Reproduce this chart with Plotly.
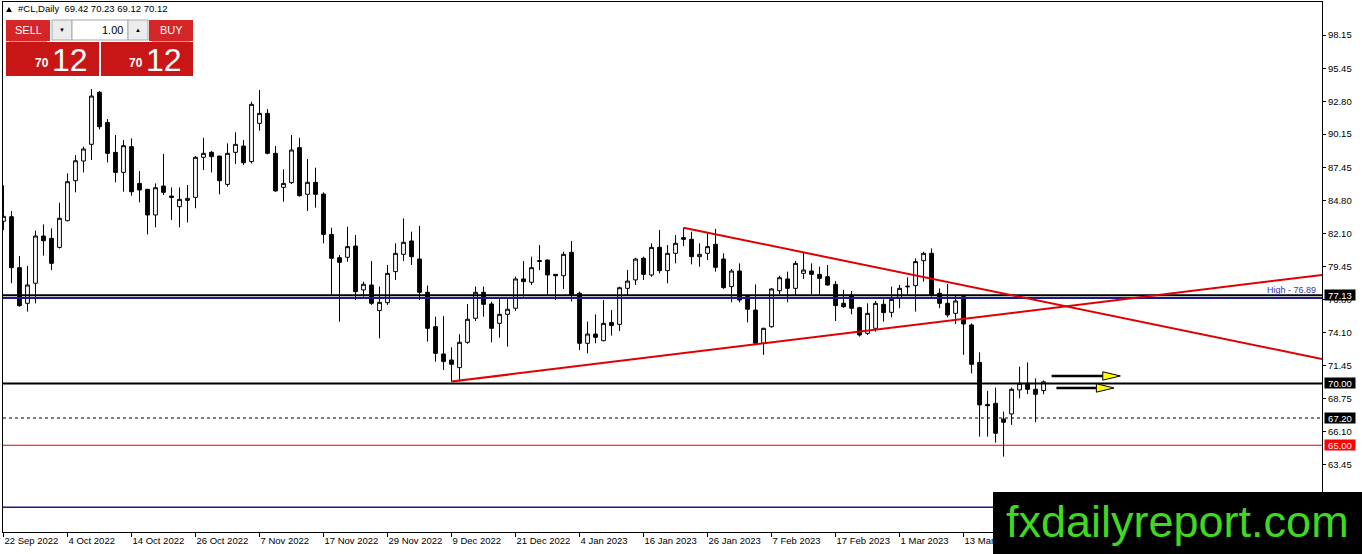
import pandas as pd
import plotly.graph_objects as go

# daily OHLC of #CL (22 Sep 2022 .. 27 Mar 2023)
opens = [83.10, 83.47, 79.35, 76.47, 78.09, 81.91, 81.72, 80.99, 83.15, 86.38,
         87.97, 89.32, 93.52, 91.09, 88.67, 87.05, 89.13, 86.16, 85.68, 83.61,
         85.95, 85.14, 84.28, 84.79, 85.03, 88.27, 88.67, 88.37, 86.08, 88.67,
         89.18, 87.92, 91.01, 91.82, 88.59, 85.84, 86.22, 89.05, 85.28, 86.25,
         85.30, 82.04, 80.16, 80.19, 81.10, 77.55, 77.95, 75.88, 76.52, 79.03,
         80.43, 81.51, 80.05, 77.36, 74.58, 72.38, 71.89, 71.27, 73.32, 75.26,
         77.36, 76.42, 74.85, 75.58, 76.07, 78.44, 78.17, 79.85, 79.97, 78.81,
         78.70, 80.59, 77.28, 73.24, 73.99, 73.45, 74.91, 74.77, 77.68, 78.36,
         80.11, 78.76, 81.00, 79.11, 80.51, 81.78, 81.64, 80.24, 80.51, 81.24,
         80.05, 77.82, 79.08, 77.01, 75.93, 73.24, 74.58, 77.49, 78.44, 77.68,
         78.89, 79.08, 78.81, 78.62, 78.00, 76.47, 77.14, 76.12, 74.05, 74.45,
         76.39, 75.74, 76.87, 77.80, 77.90, 79.92, 80.51, 77.28, 76.47, 75.66,
         77.01, 74.72, 71.70, 68.30, 68.39, 67.12, 67.53, 69.47, 70.01, 69.52,
         69.42]
highs = [86.00, 83.93, 80.29, 79.49, 82.34, 82.85, 82.53, 84.60, 86.97, 88.45,
         89.13, 93.79, 93.63, 91.36, 90.07, 89.67, 89.80, 87.16, 85.72, 86.16,
         88.54, 85.84, 85.84, 86.03, 88.37, 89.85, 88.78, 88.40, 89.40, 90.29,
         89.67, 92.76, 93.71, 92.17, 89.18, 87.30, 90.07, 89.85, 88.13, 87.43,
         85.44, 82.58, 80.37, 82.66, 81.99, 78.22, 79.89, 77.82, 79.57, 81.32,
         83.34, 82.26, 82.72, 77.90, 75.39, 75.45, 72.92, 73.97, 76.42, 77.82,
         77.82, 76.60, 76.87, 76.82, 78.62, 79.89, 80.24, 81.18, 80.00, 78.82,
         80.65, 81.51, 77.41, 74.99, 75.58, 76.74, 75.93, 77.82, 79.16, 80.16,
         80.24, 81.32, 82.39, 81.18, 81.99, 82.58, 82.26, 81.32, 82.12, 82.48,
         80.51, 79.24, 79.70, 77.14, 78.00, 74.50, 77.70, 78.70, 79.03, 79.89,
         80.59, 79.70, 79.43, 79.57, 78.27, 77.55, 77.47, 76.20, 76.47, 76.66,
         76.79, 77.82, 77.95, 78.57, 80.11, 80.64, 80.91, 77.68, 78.03, 77.14,
         77.14, 74.85, 72.51, 69.39, 69.66, 67.72, 69.66, 71.35, 71.70, 70.41,
         70.23]
lows = [82.40, 78.09, 76.20, 75.80, 76.47, 80.32, 79.16, 80.90, 83.10, 85.44,
        87.05, 88.05, 90.53, 87.86, 86.25, 85.49, 85.17, 84.63, 82.04, 82.61,
        85.22, 83.20, 82.61, 83.01, 84.15, 87.24, 87.05, 85.28, 85.90, 87.73,
        87.65, 87.78, 90.42, 88.51, 85.50, 84.68, 86.11, 85.09, 83.93, 84.20,
        81.32, 77.14, 74.99, 79.84, 76.74, 77.01, 76.34, 73.64, 76.34, 78.36,
        79.89, 79.57, 76.74, 73.37, 71.76, 71.08, 70.14, 70.14, 73.20, 75.04,
        75.39, 73.32, 73.70, 72.97, 75.85, 77.01, 77.95, 79.16, 77.14, 76.74,
        77.63, 76.61, 72.70, 72.43, 73.24, 73.40, 73.86, 74.23, 77.14, 77.95,
        78.36, 78.62, 78.89, 78.09, 79.70, 81.10, 79.62, 79.43, 79.97, 79.03,
        77.63, 76.55, 76.55, 74.93, 73.20, 72.30, 74.50, 77.22, 76.55, 77.14,
        78.44, 77.20, 77.14, 77.90, 75.04, 76.10, 75.58, 73.78, 73.91, 74.18,
        74.99, 75.34, 76.07, 77.14, 75.80, 78.22, 77.01, 76.07, 75.34, 74.80,
        72.30, 70.81, 65.70, 65.70, 65.21, 64.08, 66.64, 68.79, 69.14, 66.86,
        69.12]
closes = [83.50, 79.35, 76.28, 77.95, 81.91, 81.53, 79.70, 83.34, 86.30, 87.99,
          88.94, 93.22, 90.74, 88.59, 87.05, 89.21, 85.49, 85.63, 83.61, 85.81,
          85.44, 85.03, 84.87, 84.95, 88.27, 88.59, 88.32, 86.38, 88.59, 89.32,
          87.83, 92.55, 91.82, 88.59, 85.55, 86.16, 88.86, 85.17, 86.25, 85.28,
          82.04, 80.11, 79.78, 81.05, 77.41, 78.01, 76.47, 76.55, 78.89, 80.51,
          81.40, 80.24, 77.36, 74.45, 72.43, 71.76, 71.54, 73.32, 75.18, 77.36,
          76.39, 74.45, 75.58, 75.99, 78.44, 78.22, 79.35, 79.92, 78.76, 78.70,
          80.43, 77.14, 73.24, 73.99, 73.72, 74.85, 74.67, 77.73, 78.27, 80.05,
          78.81, 80.99, 79.11, 80.51, 81.32, 81.64, 80.24, 80.43, 81.05, 79.38,
          77.74, 79.08, 76.74, 75.99, 73.24, 74.45, 77.63, 78.54, 77.68, 79.70,
          79.16, 78.81, 78.49, 77.95, 76.28, 76.20, 76.07, 73.91, 75.66, 76.47,
          75.72, 76.79, 77.68, 77.85, 79.84, 80.51, 77.14, 76.47, 75.53, 76.66,
          74.80, 71.54, 68.26, 68.20, 65.97, 66.86, 69.52, 70.01, 69.52, 69.12,
          70.12]

# trading days (broker had no bars on 26 Dec and 2 Jan)
days = pd.bdate_range("2022-09-22", "2023-03-27")
days = days.drop(pd.to_datetime(["2022-12-26", "2023-01-02"]))
bar_no = list(range(len(closes)))
# a date label every 8 bars; the one after 13 Mar is hidden by the watermark
tick_bars = bar_no[:121:8]
tick_text = [f"{days[i].day} {days[i]:%b %Y}" for i in tick_bars]

# price scale labels (76.80 sits under the 77.13 box)
price_ticks = [98.15, 95.45, 92.80, 90.15, 87.45, 84.80, 82.10, 79.45, 76.80,
               74.10, 71.45, 68.75, 66.10, 63.45]

# horizontal levels
level_black = 77.13
level_high = 76.89
level_70 = 70.00
level_dash = 67.20
level_red = 65.00
level_low = 60.00

# trend lines: (bar, price) start and end at the right edge of the chart
support_line = [(56, 70.15), (164.8, 78.76)]
resist_line = [(85, 82.58), (164.8, 71.97)]

# arrows: (bar start, bar of head base, bar of tip, price)
arrows = [(131.0, 137.4, 139.6, 70.60), (131.6, 136.6, 138.8, 69.63)]

# page geometry
W, H = 1362, 554
ML, MR, MT, MB = 3, 40, 2, 22
FONT = "Liberation Sans"


def px(x):
    return (x - ML) / (W - ML - MR)


def py(y):
    return (H - MB - y) / (H - MT - MB)


fig = go.Figure()

fig.add_trace(go.Candlestick(
    x=bar_no, open=opens, high=highs, low=lows, close=closes,
    increasing=dict(line=dict(color="black", width=1), fillcolor="white"),
    decreasing=dict(line=dict(color="black", width=1), fillcolor="black"),
    whiskerwidth=0, hoverinfo="skip", showlegend=False))

# horizontal lines across the chart
def hline(y, color, width, dash="solid"):
    fig.add_shape(type="line", xref="paper", yref="y", x0=0, x1=1, y0=y, y1=y,
                  line=dict(color=color, width=width, dash=dash), layer="above")


hline(level_black, "black", 2)
hline(level_high, "#1a1a8c", 2)
hline(level_70, "black", 2)
hline(level_dash, "black", 1, "3px,3px")
hline(level_red, "#e00000", 1)
hline(level_low, "#1a1a8c", 1.5)

# red trend lines
for ln in (support_line, resist_line):
    fig.add_shape(type="line", xref="x", yref="y",
                  x0=ln[0][0], y0=ln[0][1], x1=ln[1][0], y1=ln[1][1],
                  line=dict(color="#e00000", width=2), layer="above")

# yellow arrows
for a in arrows:
    x0, xb, xt, y = a
    fig.add_shape(type="line", xref="x", yref="y", x0=x0, x1=xb, y0=y, y1=y,
                  line=dict(color="black", width=2.5), layer="above")
    fig.add_shape(type="path", xref="x", yref="y",
                  path=f"M {xb} {y + 0.34} L {xt} {y} L {xb} {y - 0.34} Z",
                  fillcolor="#ffff00", line=dict(color="black", width=1),
                  layer="above")

# value boxes on the price scale
def price_box(y, text, bg):
    fig.add_annotation(xref="paper", yref="y", x=px(1324), y=y, text=text,
                       showarrow=False, xanchor="left", yanchor="middle",
                       bgcolor=bg, font=dict(family=FONT, size=9.5, color="white"),
                       width=29, height=9, borderpad=0.5)


price_box(level_black, "77.13", "black")
price_box(level_70, "70.00", "black")
price_box(level_dash, "67.20", "black")
price_box(level_red, "65.00", "#ff0000")

fig.add_annotation(xref="paper", yref="y", x=px(1318), y=level_high + 0.08,
                   text="High - 76.89", showarrow=False, xanchor="right",
                   yanchor="bottom", font=dict(family=FONT, size=9, color="#3434b4"))

# chart title
fig.add_shape(type="path", xref="paper", yref="paper",
              path=f"M {px(6)} {py(12)} L {px(12)} {py(12)} L {px(9)} {py(7)} Z",
              fillcolor="black", line=dict(width=0), layer="above")
fig.add_annotation(xref="paper", yref="paper", x=px(16), y=py(9),
                   text="#CL,Daily  69.42 70.23 69.12 70.12", showarrow=False,
                   xanchor="left", yanchor="middle",
                   font=dict(family=FONT, size=9.5, color="black"))

# one click trading panel
def rect(x0, y0, x1, y1, fill, line=None):
    fig.add_shape(type="rect", xref="paper", yref="paper",
                  x0=px(x0), x1=px(x1), y0=py(y1), y1=py(y0), fillcolor=fill,
                  line=dict(color=line or fill, width=1 if line else 0),
                  layer="above")


def text(x, y, s, size, color="white", anchor="center", bold=False):
    if bold:
        s = "<b>" + s + "</b>"
    fig.add_annotation(xref="paper", yref="paper", x=px(x), y=py(y), text=s,
                       showarrow=False, xanchor=anchor, yanchor="middle",
                       font=dict(family=FONT, size=size, color=color))


rect(6, 20, 50, 41, "#d42626")
rect(149, 20, 193, 41, "#d42626")
rect(52, 20, 72, 40, "#ececec", "#a8a8a8")
rect(72, 20, 128, 40, "white", "#a8a8a8")
rect(128, 20, 148, 40, "#ececec", "#a8a8a8")
rect(6, 42, 99, 76, "#c81616")
rect(101, 42, 193, 76, "#c81616")
for xa, xb in ((9, 47), (152, 190)):
    fig.add_shape(type="line", xref="paper", yref="paper", x0=px(xa), x1=px(xb),
                  y0=py(41.5), y1=py(41.5), line=dict(color="#f29090", width=1),
                  layer="above")

text(28, 30, "SELL", 11)
text(171, 30, "BUY", 11)
text(62, 30, "▼", 6, "black")
text(138, 30, "▲", 6, "black")
text(125, 30, "1.00", 11, "black", "right")
text(42, 63, "70", 12, bold=True)
text(70, 60, "12", 32)
text(136, 63, "70", 12, bold=True)
text(164, 60, "12", 32)

# watermark
rect(993, 492, 1362, 554, "black")
text(1177, 521, "fxdailyreport.com", 45, "#40d820")

fig.update_layout(
    width=W, height=H,
    margin=dict(l=ML, r=MR, t=MT, b=MB),
    paper_bgcolor="white", plot_bgcolor="white",
    showlegend=False, boxgap=0.32,
    xaxis=dict(range=[-0.06, 164.8], rangeslider=dict(visible=False),
               tickvals=tick_bars, ticktext=tick_text,
               ticks="outside", ticklen=4, tickcolor="black",
               ticklabelposition="outside right",
               showline=True, linecolor="black", linewidth=1, mirror=True,
               showgrid=False, zeroline=False,
               tickfont=dict(family=FONT, size=9.5, color="black")),
    yaxis=dict(range=[57.99, 100.82], side="right",
               tickvals=price_ticks, ticktext=[f"{v:.2f}" for v in price_ticks],
               ticks="outside", ticklen=3, tickcolor="black",
               showline=True, linecolor="black", linewidth=1, mirror=True,
               showgrid=False, zeroline=False,
               tickfont=dict(family=FONT, size=9.5, color="black")),
)

# page body has an 8px margin by default; drop it so the chart sits at 0,0
fig.write_html("out.html", config=dict(displayModeBar=False),
               post_script="document.body.style.margin='0';")
